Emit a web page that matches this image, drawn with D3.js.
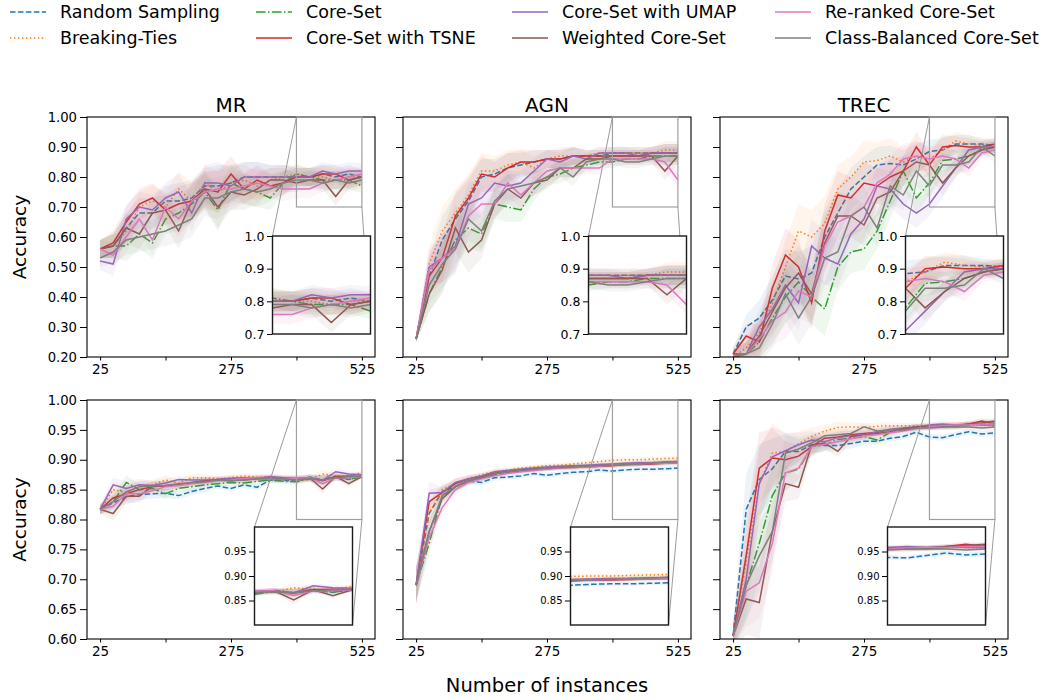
<!DOCTYPE html>
<html>
<head>
<meta charset="utf-8">
<script src="https://cdn.jsdelivr.net/npm/d3@7"></script>
<style>
body { margin: 0; background: #fff; }
text { font-family: "DejaVu Sans", sans-serif; fill: #000; }
</style>
</head>
<body>
<div id="chart-area"></div>
<script>
// series order used in every panel array below
const methods = ['Random Sampling', 'Breaking-Ties', 'Core-Set', 'Core-Set with TSNE',
    'Core-Set with UMAP', 'Weighted Core-Set', 'Re-ranked Core-Set', 'Class-Balanced Core-Set']
const colors = ['#1f77b4', '#ff7f0e', '#2ca02c', '#d62728', '#9467bd', '#8c564b', '#e377c2', '#7f7f7f']
const dashes = ['5.55,2.4', '1.5,2.475', '9.6,2.4,1.5,2.4', null, null, null, null, null]

const instances = [25, 50, 75, 100, 125, 150, 175, 200, 225, 250, 275, 300, 325, 350, 375, 400, 425, 450, 475, 500, 525]
const xTicks = [25, 150, 275, 400, 525]
const xTickLabels = [25, 275, 525]
const datasets = ['MR', 'AGN', 'TREC']

// top row
const mrTop = [
    [0.56, 0.57, 0.63, 0.68, 0.68, 0.72, 0.72, 0.73, 0.77, 0.77, 0.78, 0.80, 0.80, 0.80, 0.80, 0.80, 0.80, 0.81, 0.80, 0.81, 0.80],
    [0.56, 0.57, 0.62, 0.70, 0.72, 0.70, 0.76, 0.72, 0.78, 0.75, 0.78, 0.79, 0.77, 0.79, 0.80, 0.81, 0.80, 0.80, 0.79, 0.80, 0.80],
    [0.56, 0.57, 0.57, 0.61, 0.58, 0.66, 0.68, 0.71, 0.75, 0.69, 0.78, 0.76, 0.75, 0.73, 0.78, 0.81, 0.80, 0.79, 0.79, 0.79, 0.77],
    [0.56, 0.58, 0.65, 0.71, 0.73, 0.69, 0.71, 0.72, 0.76, 0.75, 0.81, 0.76, 0.79, 0.77, 0.78, 0.80, 0.80, 0.81, 0.81, 0.79, 0.80],
    [0.52, 0.51, 0.66, 0.70, 0.69, 0.73, 0.75, 0.68, 0.78, 0.78, 0.77, 0.80, 0.80, 0.80, 0.80, 0.80, 0.80, 0.82, 0.81, 0.82, 0.82],
    [0.56, 0.57, 0.63, 0.61, 0.68, 0.69, 0.62, 0.72, 0.76, 0.70, 0.75, 0.74, 0.76, 0.79, 0.79, 0.78, 0.79, 0.79, 0.735, 0.79, 0.80],
    [0.56, 0.54, 0.60, 0.66, 0.59, 0.70, 0.66, 0.72, 0.75, 0.76, 0.76, 0.77, 0.78, 0.77, 0.76, 0.76, 0.76, 0.78, 0.79, 0.80, 0.81],
    [0.53, 0.55, 0.59, 0.60, 0.61, 0.62, 0.64, 0.66, 0.73, 0.73, 0.75, 0.76, 0.75, 0.76, 0.78, 0.79, 0.79, 0.78, 0.79, 0.78, 0.79]
]
const agnTop = [
    [0.26, 0.47, 0.59, 0.66, 0.72, 0.80, 0.81, 0.83, 0.84, 0.85, 0.86, 0.86, 0.87, 0.87, 0.87, 0.88, 0.88, 0.88, 0.88, 0.88, 0.88],
    [0.26, 0.51, 0.62, 0.68, 0.74, 0.82, 0.82, 0.84, 0.85, 0.83, 0.86, 0.87, 0.87, 0.87, 0.88, 0.88, 0.88, 0.88, 0.88, 0.89, 0.89],
    [0.26, 0.41, 0.50, 0.59, 0.63, 0.61, 0.71, 0.70, 0.69, 0.76, 0.80, 0.81, 0.83, 0.84, 0.85, 0.85, 0.86, 0.86, 0.87, 0.87, 0.87],
    [0.26, 0.47, 0.53, 0.67, 0.73, 0.81, 0.80, 0.83, 0.85, 0.85, 0.86, 0.86, 0.87, 0.87, 0.87, 0.87, 0.87, 0.87, 0.88, 0.88, 0.88],
    [0.26, 0.50, 0.53, 0.57, 0.71, 0.73, 0.78, 0.77, 0.78, 0.82, 0.86, 0.85, 0.87, 0.86, 0.88, 0.88, 0.88, 0.87, 0.88, 0.88, 0.88],
    [0.26, 0.41, 0.49, 0.63, 0.55, 0.59, 0.71, 0.76, 0.73, 0.78, 0.79, 0.83, 0.83, 0.86, 0.86, 0.87, 0.87, 0.87, 0.87, 0.82, 0.87],
    [0.26, 0.49, 0.53, 0.56, 0.67, 0.71, 0.71, 0.78, 0.74, 0.78, 0.82, 0.83, 0.83, 0.83, 0.83, 0.86, 0.86, 0.86, 0.86, 0.85, 0.79],
    [0.26, 0.44, 0.51, 0.56, 0.66, 0.62, 0.72, 0.76, 0.77, 0.78, 0.80, 0.83, 0.80, 0.85, 0.86, 0.86, 0.85, 0.85, 0.86, 0.87, 0.87]
]
const trecTop = [
    [0.21, 0.30, 0.33, 0.39, 0.47, 0.46, 0.48, 0.60, 0.68, 0.76, 0.80, 0.84, 0.845, 0.84, 0.86, 0.885, 0.89, 0.91, 0.91, 0.91, 0.905],
    [0.20, 0.23, 0.28, 0.38, 0.50, 0.62, 0.60, 0.645, 0.76, 0.80, 0.85, 0.855, 0.87, 0.85, 0.87, 0.86, 0.89, 0.92, 0.91, 0.905, 0.91],
    [0.20, 0.21, 0.25, 0.33, 0.40, 0.45, 0.40, 0.36, 0.50, 0.55, 0.56, 0.62, 0.72, 0.82, 0.73, 0.78, 0.855, 0.86, 0.87, 0.89, 0.90],
    [0.21, 0.27, 0.25, 0.43, 0.54, 0.50, 0.38, 0.62, 0.74, 0.73, 0.78, 0.77, 0.80, 0.82, 0.90, 0.84, 0.90, 0.905, 0.90, 0.90, 0.91],
    [0.20, 0.21, 0.30, 0.36, 0.44, 0.38, 0.57, 0.53, 0.51, 0.61, 0.66, 0.77, 0.76, 0.71, 0.68, 0.71, 0.77, 0.83, 0.89, 0.90, 0.90],
    [0.21, 0.21, 0.27, 0.35, 0.43, 0.48, 0.41, 0.58, 0.67, 0.67, 0.64, 0.73, 0.75, 0.82, 0.85, 0.84, 0.78, 0.83, 0.87, 0.89, 0.90],
    [0.20, 0.21, 0.26, 0.32, 0.35, 0.42, 0.40, 0.57, 0.65, 0.67, 0.70, 0.78, 0.81, 0.86, 0.87, 0.86, 0.87, 0.86, 0.83, 0.88, 0.89],
    [0.20, 0.21, 0.23, 0.31, 0.41, 0.33, 0.40, 0.53, 0.55, 0.67, 0.70, 0.63, 0.77, 0.74, 0.82, 0.77, 0.84, 0.84, 0.85, 0.90, 0.87]
]

// bottom row
const mrBottom = [
    [0.817, 0.828, 0.838, 0.842, 0.843, 0.844, 0.840, 0.847, 0.852, 0.856, 0.852, 0.858, 0.854, 0.866, 0.866, 0.864, 0.871, 0.866, 0.870, 0.867, 0.873],
    [0.817, 0.850, 0.845, 0.855, 0.858, 0.866, 0.861, 0.870, 0.870, 0.868, 0.870, 0.873, 0.871, 0.871, 0.868, 0.867, 0.867, 0.876, 0.873, 0.872, 0.879],
    [0.817, 0.830, 0.862, 0.850, 0.852, 0.843, 0.852, 0.855, 0.858, 0.860, 0.862, 0.861, 0.864, 0.866, 0.864, 0.863, 0.868, 0.866, 0.873, 0.867, 0.872],
    [0.817, 0.836, 0.843, 0.850, 0.855, 0.857, 0.858, 0.861, 0.865, 0.867, 0.868, 0.866, 0.869, 0.870, 0.869, 0.868, 0.870, 0.865, 0.872, 0.873, 0.872],
    [0.817, 0.858, 0.852, 0.858, 0.857, 0.861, 0.867, 0.866, 0.866, 0.867, 0.869, 0.870, 0.869, 0.872, 0.870, 0.869, 0.870, 0.866, 0.880, 0.876, 0.875],
    [0.817, 0.810, 0.839, 0.839, 0.856, 0.856, 0.858, 0.862, 0.864, 0.866, 0.865, 0.867, 0.868, 0.868, 0.868, 0.868, 0.870, 0.851, 0.872, 0.860, 0.872],
    [0.817, 0.822, 0.843, 0.843, 0.848, 0.855, 0.857, 0.860, 0.862, 0.865, 0.866, 0.868, 0.870, 0.868, 0.868, 0.869, 0.870, 0.860, 0.870, 0.870, 0.872],
    [0.817, 0.830, 0.846, 0.855, 0.856, 0.857, 0.860, 0.862, 0.863, 0.866, 0.865, 0.866, 0.868, 0.870, 0.868, 0.866, 0.868, 0.866, 0.870, 0.872, 0.873]
]
const agnBottom = [
    [0.690, 0.810, 0.847, 0.855, 0.864, 0.862, 0.870, 0.871, 0.873, 0.877, 0.874, 0.877, 0.879, 0.880, 0.883, 0.881, 0.883, 0.884, 0.884, 0.885, 0.886],
    [0.690, 0.810, 0.850, 0.860, 0.868, 0.875, 0.880, 0.883, 0.886, 0.888, 0.890, 0.891, 0.893, 0.895, 0.897, 0.899, 0.900, 0.900, 0.901, 0.902, 0.903],
    [0.690, 0.760, 0.840, 0.855, 0.865, 0.870, 0.875, 0.880, 0.883, 0.885, 0.887, 0.888, 0.889, 0.890, 0.891, 0.892, 0.893, 0.894, 0.895, 0.896, 0.897],
    [0.690, 0.830, 0.845, 0.860, 0.868, 0.872, 0.877, 0.880, 0.882, 0.884, 0.885, 0.887, 0.887, 0.888, 0.889, 0.890, 0.892, 0.892, 0.893, 0.894, 0.895],
    [0.690, 0.844, 0.845, 0.862, 0.868, 0.873, 0.880, 0.882, 0.884, 0.886, 0.888, 0.889, 0.890, 0.891, 0.892, 0.893, 0.894, 0.895, 0.895, 0.896, 0.897],
    [0.690, 0.780, 0.835, 0.855, 0.865, 0.870, 0.877, 0.880, 0.882, 0.884, 0.885, 0.887, 0.888, 0.889, 0.890, 0.891, 0.892, 0.893, 0.894, 0.895, 0.896],
    [0.690, 0.770, 0.820, 0.850, 0.862, 0.868, 0.873, 0.877, 0.880, 0.882, 0.884, 0.886, 0.887, 0.888, 0.889, 0.891, 0.892, 0.893, 0.894, 0.894, 0.895],
    [0.690, 0.780, 0.840, 0.855, 0.865, 0.870, 0.876, 0.880, 0.882, 0.884, 0.886, 0.887, 0.888, 0.889, 0.890, 0.891, 0.892, 0.893, 0.894, 0.896, 0.897]
]
const trecBottom = [
    [0.605, 0.817, 0.867, 0.885, 0.914, 0.914, 0.925, 0.924, 0.924, 0.927, 0.931, 0.931, 0.936, 0.939, 0.946, 0.938, 0.937, 0.942, 0.947, 0.943, 0.945],
    [0.605, 0.730, 0.860, 0.911, 0.914, 0.927, 0.939, 0.948, 0.954, 0.955, 0.954, 0.956, 0.957, 0.957, 0.957, 0.957, 0.958, 0.958, 0.958, 0.958, 0.957],
    [0.605, 0.690, 0.760, 0.840, 0.878, 0.884, 0.922, 0.925, 0.934, 0.936, 0.939, 0.933, 0.946, 0.951, 0.955, 0.955, 0.957, 0.956, 0.958, 0.960, 0.962],
    [0.605, 0.740, 0.886, 0.903, 0.900, 0.906, 0.922, 0.936, 0.938, 0.942, 0.944, 0.946, 0.950, 0.951, 0.955, 0.955, 0.956, 0.956, 0.960, 0.965, 0.960],
    [0.605, 0.700, 0.860, 0.905, 0.915, 0.925, 0.933, 0.930, 0.937, 0.940, 0.942, 0.947, 0.951, 0.953, 0.955, 0.958, 0.960, 0.958, 0.960, 0.958, 0.958],
    [0.605, 0.667, 0.661, 0.780, 0.860, 0.854, 0.925, 0.928, 0.914, 0.939, 0.941, 0.944, 0.947, 0.952, 0.955, 0.956, 0.955, 0.957, 0.960, 0.962, 0.965],
    [0.605, 0.680, 0.694, 0.760, 0.878, 0.886, 0.922, 0.926, 0.930, 0.935, 0.940, 0.942, 0.945, 0.948, 0.952, 0.955, 0.957, 0.958, 0.958, 0.960, 0.960],
    [0.605, 0.690, 0.739, 0.780, 0.911, 0.918, 0.928, 0.940, 0.942, 0.944, 0.955, 0.948, 0.950, 0.950, 0.953, 0.953, 0.955, 0.955, 0.955, 0.953, 0.955]
]

// half width of the shaded band, per panel
const mrTopSpread = [0.03, 0.04, 0.05, 0.05, 0.05, 0.05, 0.06, 0.06, 0.06, 0.07, 0.06, 0.05, 0.05, 0.04, 0.04, 0.03, 0.03, 0.03, 0.03, 0.03, 0.025]
const agnTopSpread = [0.01, 0.06, 0.08, 0.08, 0.07, 0.06, 0.05, 0.05, 0.04, 0.04, 0.03, 0.03, 0.03, 0.02, 0.02, 0.02, 0.02, 0.02, 0.02, 0.03, 0.03]
const trecTopSpread = [0.02, 0.04, 0.06, 0.08, 0.09, 0.09, 0.09, 0.09, 0.08, 0.07, 0.07, 0.06, 0.06, 0.05, 0.05, 0.04, 0.04, 0.03, 0.03, 0.02, 0.02]
const mrBottomSpread = [0.008, 0.012, 0.012, 0.010, 0.008, 0.008, 0.006, 0.006, 0.006, 0.005, 0.005, 0.005, 0.005, 0.005, 0.005, 0.005, 0.005, 0.008, 0.005, 0.005, 0.004]
const agnBottomSpread = [0.03, 0.02, 0.01, 0.008, 0.006, 0.005, 0.005, 0.004, 0.004, 0.004, 0.004, 0.004, 0.004, 0.004, 0.004, 0.004, 0.004, 0.004, 0.004, 0.004, 0.004]
const trecBottomSpread = [0.02, 0.06, 0.06, 0.05, 0.03, 0.02, 0.015, 0.01, 0.01, 0.008, 0.007, 0.006, 0.006, 0.005, 0.005, 0.005, 0.005, 0.005, 0.005, 0.005, 0.005]

const topYTicks = [0.2, 0.3, 0.4, 0.5, 0.6, 0.7, 0.8, 0.9, 1.0]
const bottomYTicks = [0.60, 0.65, 0.70, 0.75, 0.80, 0.85, 0.90, 0.95, 1.00]
const topInsetTicks = [0.7, 0.8, 0.9, 1.0]
const bottomInsetTicks = [0.85, 0.90, 0.95]

const width = 1050
const height = 700
const panelW = 288
const colLeft = [87, 403, 720]

const rows = [
    { top: 117, h: 240, yDomain: [0.2, 1.0], yTicks: topYTicks, zoomY: [0.7, 1.0], insetTicks: topInsetTicks,
      insetFormat: '.1f', insetFont: 12.5, insetDx: 185.5, insetDy: 119,
      data: [mrTop, agnTop, trecTop], spread: [mrTopSpread, agnTopSpread, trecTopSpread], titles: true },
    { top: 400, h: 239, yDomain: [0.6, 1.0], yTicks: bottomYTicks, zoomY: [0.8, 1.0], insetTicks: bottomInsetTicks,
      insetFormat: '.2f', insetFont: 10, insetDx: 167.5, insetDy: 127,
      data: [mrBottom, agnBottom, trecBottom], spread: [mrBottomSpread, agnBottomSpread, trecBottomSpread], titles: false }
]
const insetW = 98
const insetH = 98

const svg = d3.select('#chart-area').append('svg')
    .attr('width', width)
    .attr('height', height)

let clipId = 0

function drawSeries(g, x, y, series, spread) {
    series.forEach((vals, s) => {
        const pts = instances.map((d, i) => ({ x: d, v: vals[i], e: spread[i] }))
        const area = d3.area()
            .x(d => x(d.x))
            .y0(d => y(d.v - d.e))
            .y1(d => y(d.v + d.e))
        g.append('path')
            .attr('d', area(pts))
            .attr('fill', colors[s])
            .attr('fill-opacity', 0.08)
        const line = d3.line().x(d => x(d.x)).y(d => y(d.v))
        g.append('path')
            .attr('d', line(pts))
            .attr('fill', 'none')
            .attr('stroke', colors[s])
            .attr('stroke-width', 1.5)
            .attr('stroke-dasharray', dashes[s])
    })
}

function addClip(g, w, h) {
    const id = 'clip' + (clipId++)
    g.append('clipPath').attr('id', id)
        .append('rect').attr('width', w).attr('height', h)
    return g.append('g').attr('clip-path', `url(#${id})`)
}

function drawPanel(row, col) {
    const h = row.h
    const g = svg.append('g')
        .attr('transform', `translate(${colLeft[col]}, ${row.top})`)

    const x = d3.scaleLinear().domain([0, 550]).range([0, panelW])
    const y = d3.scaleLinear().domain(row.yDomain).range([h, 0])

    const plot = addClip(g, panelW, h)
    drawSeries(plot, x, y, row.data[col], row.spread[col])

    // axes
    const xAxisCall = d3.axisBottom(x)
        .tickValues(xTicks)
        .tickSize(3.5)
        .tickPadding(3.5)
        .tickFormat(d => xTickLabels.includes(d) ? d : '')
    const xg = g.append('g')
        .attr('transform', `translate(0, ${h})`)
        .call(xAxisCall)
    xg.select('.domain').remove()
    xg.selectAll('text').attr('font-size', '13.5px').attr('fill', '#000')
        .attr('font-family', 'DejaVu Sans')

    // only the first column carries y tick labels
    const yFormat = d3.format('.2f')
    const yAxisCall = d3.axisLeft(y)
        .tickValues(row.yTicks)
        .tickSize(7)
        .tickPadding(3)
        .tickFormat(d => col === 0 ? yFormat(d) : '')
    const yg = g.append('g').call(yAxisCall)
    yg.select('.domain').remove()
    yg.selectAll('text').attr('font-size', '13.2px').attr('fill', '#000')
        .attr('font-family', 'DejaVu Sans')

    g.append('rect')
        .attr('width', panelW)
        .attr('height', h)
        .attr('fill', 'none')
        .attr('stroke', '#000')
        .attr('stroke-width', 1.1)

    if (row.titles) {
        g.append('text')
            .attr('x', panelW / 2)
            .attr('y', -5)
            .attr('text-anchor', 'middle')
            .attr('font-size', '20px')
            .text(datasets[col])
    }

    // zoomed region and connectors
    const ix = row.insetDx
    const iy = row.insetDy
    const zx0 = x(400)
    const zx1 = x(525)
    const zy0 = y(row.zoomY[1])
    const zy1 = y(row.zoomY[0])
    g.append('rect')
        .attr('x', zx0).attr('y', zy0)
        .attr('width', zx1 - zx0).attr('height', zy1 - zy0)
        .attr('fill', 'none').attr('stroke', '#a0a0a0').attr('stroke-width', 1.2)
    g.append('line')
        .attr('x1', zx0).attr('y1', zy0).attr('x2', ix).attr('y2', iy)
        .attr('stroke', '#909090').attr('stroke-width', 0.9)
    g.append('line')
        .attr('x1', zx1).attr('y1', zy1).attr('x2', ix + insetW).attr('y2', iy + insetH)
        .attr('stroke', '#909090').attr('stroke-width', 0.9)

    // inset
    const ig = g.append('g').attr('transform', `translate(${ix}, ${iy})`)
    const xi = d3.scaleLinear().domain([400, 525]).range([0, insetW])
    const yi = d3.scaleLinear().domain(row.zoomY).range([insetH, 0])
    ig.append('rect').attr('width', insetW).attr('height', insetH).attr('fill', '#fff')
    const iplot = addClip(ig, insetW, insetH)
    drawSeries(iplot, xi, yi, row.data[col], row.spread[col])

    const iyAxis = d3.axisLeft(yi)
        .tickValues(row.insetTicks)
        .tickSize(5.5)
        .tickPadding(2.5)
        .tickFormat(d3.format(row.insetFormat))
    const iyg = ig.append('g').call(iyAxis)
    iyg.select('.domain').remove()
    iyg.selectAll('text').attr('font-size', row.insetFont + 'px').attr('fill', '#000')
        .attr('font-family', 'DejaVu Sans')

    ig.append('rect')
        .attr('width', insetW)
        .attr('height', insetH)
        .attr('fill', 'none')
        .attr('stroke', '#1a1a1a')
        .attr('stroke-width', 1.4)
}

rows.forEach(row => {
    datasets.forEach((_, col) => drawPanel(row, col))
    svg.append('text')
        .attr('x', -(row.top + row.h / 2))
        .attr('y', 26)
        .attr('transform', 'rotate(-90)')
        .attr('text-anchor', 'middle')
        .attr('font-size', '18.5px')
        .text('Accuracy')
})

svg.append('text')
    .attr('x', 547)
    .attr('y', 692)
    .attr('text-anchor', 'middle')
    .attr('font-size', '19.5px')
    .text('Number of instances')

// legend, four columns of two
const legendX = [10, 256, 512, 775]
const legendY = [12, 38]
methods.forEach((name, i) => {
    const col = Math.floor(i / 2)
    const r = i % 2
    const lg = svg.append('g')
        .attr('transform', `translate(${legendX[col]}, ${legendY[r]})`)
    lg.append('line')
        .attr('x1', 0).attr('x2', 36)
        .attr('stroke', colors[i])
        .attr('stroke-width', 1.5)
        .attr('stroke-dasharray', dashes[i])
    lg.append('text')
        .attr('x', 50)
        .attr('y', 6)
        .attr('font-size', '17.5px')
        .text(name)
})
</script>
</body>
</html>
